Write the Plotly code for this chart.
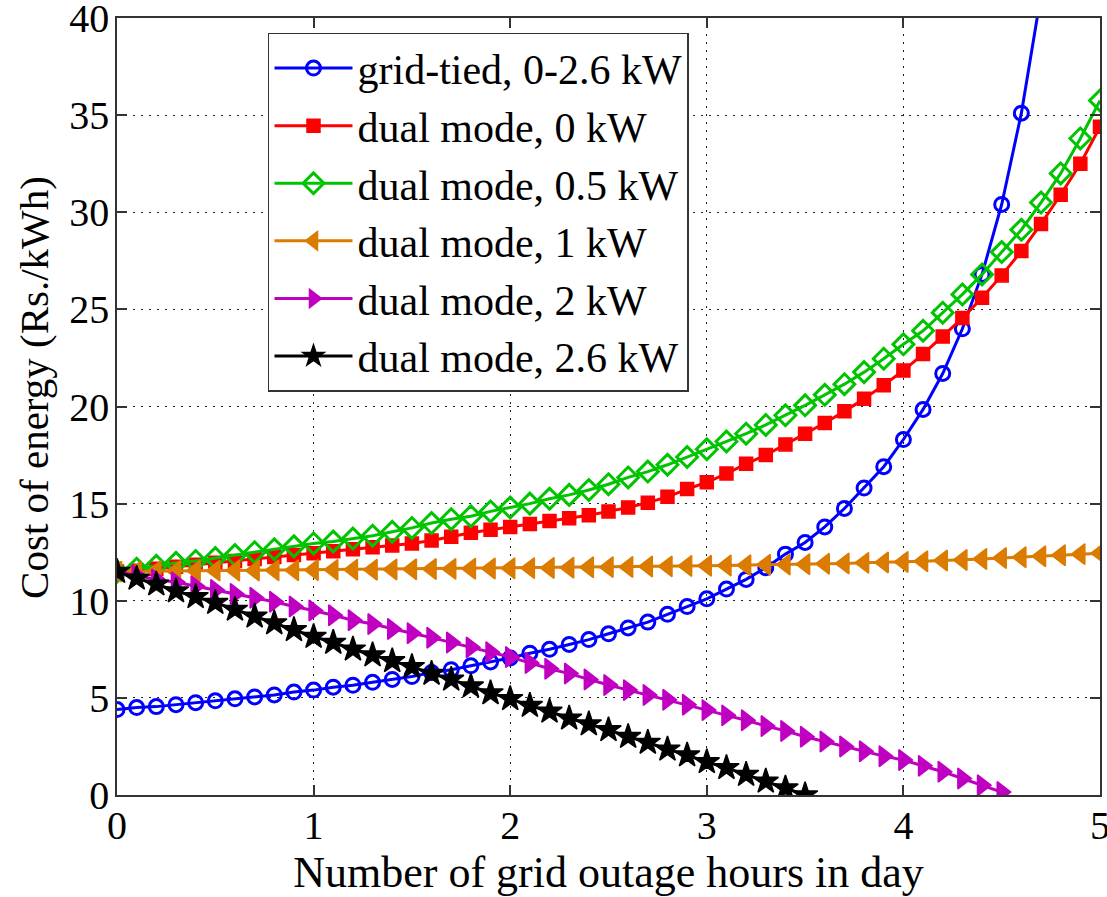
import plotly.graph_objects as go

hours = [round(i * 0.1, 1) for i in range(51)]

grid_tied = [4.4, 4.5, 4.55, 4.65, 4.75, 4.85, 4.95, 5.05, 5.15, 5.3,
             5.4, 5.55, 5.65, 5.8, 5.95, 6.1, 6.3, 6.45, 6.65, 6.85,
             7.05, 7.3, 7.5, 7.75, 8.0, 8.3, 8.6, 8.9, 9.3, 9.7,
             10.1, 10.6, 11.1, 11.7, 12.4, 13.0, 13.8, 14.75, 15.8, 16.9,
             18.3, 19.85, 21.7, 24.0, 26.8, 30.4, 35.1, 41.2]

dual_0 = [11.5, 11.55, 11.65, 11.75, 11.85, 11.95, 12.05, 12.15, 12.25, 12.35,
          12.45, 12.55, 12.65, 12.75, 12.85, 12.95, 13.1, 13.3, 13.5, 13.65,
          13.8, 13.95, 14.1, 14.25, 14.4, 14.6, 14.8, 15.05, 15.35, 15.75,
          16.1, 16.55, 17.05, 17.5, 18.05, 18.6, 19.15, 19.75, 20.4, 21.1,
          21.85, 22.7, 23.6, 24.55, 25.6, 26.75, 28.0, 29.4, 30.9, 32.5, 34.4]

dual_05 = [11.5, 11.65, 11.8, 11.95, 12.05, 12.2, 12.35, 12.5, 12.65, 12.8,
           12.95, 13.05, 13.2, 13.35, 13.55, 13.75, 14.0, 14.2, 14.35, 14.6,
           14.8, 15.0, 15.25, 15.45, 15.7, 16.0, 16.35, 16.65, 17.0, 17.4,
           17.8, 18.2, 18.6, 19.05, 19.55, 20.06, 20.6, 21.15, 21.77, 22.46,
           23.2, 23.9, 24.83, 25.77, 26.8, 27.95, 29.1, 30.5, 32.0, 33.8, 35.75]

dual_1 = [11.5, 11.51, 11.52, 11.53, 11.54, 11.55, 11.56, 11.56, 11.57, 11.57,
          11.58, 11.59, 11.6, 11.6, 11.61, 11.62, 11.63, 11.64, 11.65, 11.66,
          11.67, 11.68, 11.69, 11.7, 11.72, 11.73, 11.74, 11.76, 11.77, 11.79,
          11.8, 11.82, 11.83, 11.85, 11.86, 11.88, 11.9, 11.92, 11.95, 11.97,
          12.0, 12.03, 12.07, 12.1, 12.15, 12.2, 12.24, 12.29, 12.34, 12.4, 12.45]

dual_2 = [11.5, 11.3, 11.1, 10.95, 10.75, 10.55, 10.35, 10.15, 9.95, 9.7,
          9.5, 9.25, 9.0, 8.8, 8.55, 8.33, 8.1, 7.85, 7.6, 7.35,
          7.1, 6.8, 6.5, 6.25, 5.95, 5.66, 5.4, 5.15, 4.9, 4.65,
          4.37, 4.1, 3.85, 3.55, 3.3, 3.0, 2.75, 2.5, 2.25, 2.0,
          1.8, 1.5, 1.2, 0.85, 0.5, 0.15]

dual_26 = [11.5, 11.15, 10.85, 10.5, 10.2, 9.9, 9.55, 9.2, 8.85, 8.5,
           8.15, 7.85, 7.5, 7.2, 6.9, 6.6, 6.25, 5.95, 5.6, 5.25,
           4.95, 4.6, 4.3, 3.95, 3.65, 3.35, 3.0, 2.7, 2.35, 2.05,
           1.7, 1.4, 1.05, 0.7, 0.35, 0.0]

x_ticks = [0, 1, 2, 3, 4, 5]
y_ticks = [0, 5, 10, 15, 20, 25, 30, 35, 40]

series = [
    ("grid-tied, 0-2.6 kW", grid_tied, "#0000ff", "circle-open", 14),
    ("dual mode, 0 kW", dual_0, "#ff0000", "square", 13),
    ("dual mode, 0.5 kW", dual_05, "#00c400", "diamond-open", 16),
    ("dual mode, 1 kW", dual_1, "#db7b00", "triangle-left", 18),
    ("dual mode, 2 kW", dual_2, "#c000c0", "triangle-right", 18),
    ("dual mode, 2.6 kW", dual_26, "#000000", "star", 19),
]

FONT = "Liberation Serif, Times New Roman, serif"

fig = go.Figure()
for name, ys, color, sym, size in series:
    fig.add_trace(go.Scatter(
        x=hours[:len(ys)], y=ys, name=name, mode="lines+markers",
        line=dict(color=color, width=3),
        marker=dict(symbol=sym, size=size, color=color,
                    line=dict(color=color, width=3 if "open" in sym else 1.5)),
    ))

axis_common = dict(
    showline=True, linecolor="#333333", linewidth=1.5, mirror="ticks",
    ticks="inside", ticklen=10, tickwidth=1.5, tickcolor="#333333",
    showgrid=True, gridcolor="#222222", gridwidth=1, griddash="2px,6px",
    zeroline=False, tickfont=dict(family=FONT, size=40, color="black"),
    automargin=False, ticklabeloverflow="allow",
)

fig.update_xaxes(range=[0, 5], tickvals=x_ticks, ticktext=[str(v) for v in x_ticks],
                 ticklabelstandoff=-6,
                 title=dict(text="Number of grid outage hours in day",
                            font=dict(family=FONT, size=44, color="black"), standoff=0),
                 **axis_common)
fig.update_yaxes(range=[0, 40], tickvals=y_ticks, ticktext=[str(v) for v in y_ticks],
                 ticklabelstandoff=-2, **axis_common)

fig.add_annotation(
    text="Cost of energy (Rs./kWh)", textangle=-90,
    xref="paper", yref="paper", x=-0.0844, y=0.524,
    xanchor="center", yanchor="middle", showarrow=False,
    font=dict(family=FONT, size=41, color="black"),
)

fig.update_layout(
    width=1107, height=897,
    margin=dict(l=117, r=7, t=18, b=102),
    paper_bgcolor="white", plot_bgcolor="white",
    font=dict(family=FONT, color="black"),
    legend=dict(x=0.1536, y=0.981, xanchor="left", yanchor="top",
                bgcolor="white", bordercolor="#333333", borderwidth=1.5,
                font=dict(family=FONT, size=42, color="black"),
                itemwidth=78),
    showlegend=True,
)

fig.write_html("out.html", config={"displayModeBar": False},
               post_script="document.body.style.margin='0px';")
